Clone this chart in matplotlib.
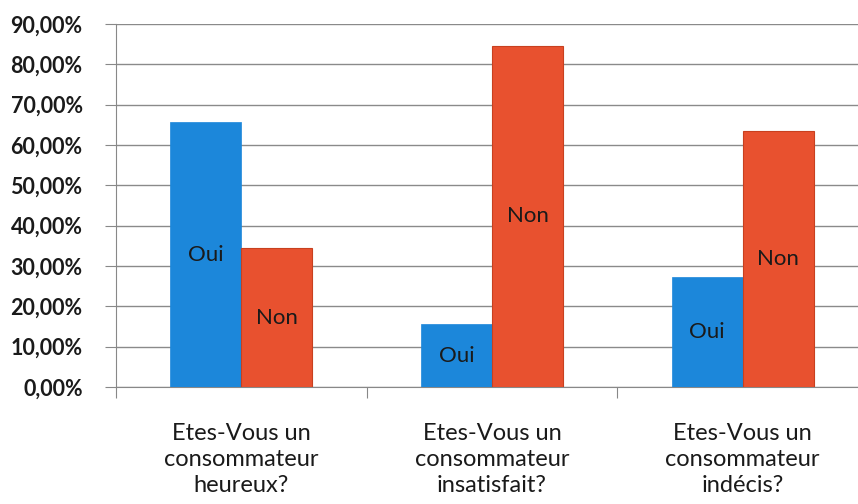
import matplotlib
matplotlib.use("Agg")
import matplotlib.pyplot as plt
import numpy as np
from matplotlib.ticker import FuncFormatter

categories = ["Etes-Vous un\nconsommateur\nheureux?",
              "Etes-Vous un\nconsommateur\ninsatisfait?",
              "Etes-Vous un\nconsommateur\nindécis?"]
oui = [0.656, 0.156, 0.272]
non = [0.344, 0.846, 0.634]
yticks = [0.0, 0.1, 0.2, 0.3, 0.4, 0.5, 0.6, 0.7, 0.8, 0.9]

plt.rcParams['font.family'] = ['Lato', 'DejaVu Sans']

fig = plt.figure(figsize=(8.58, 5.04), dpi=100)
ax = fig.add_axes([116/858, 117/504, 752/858, 363/504])

x = np.arange(len(categories))
w = 0.283
blue = "#1C87DA"
red = "#E8512F"
b1 = ax.bar(x - w/2, oui, w, color=blue, edgecolor=blue, linewidth=0.5, zorder=3)
b2 = ax.bar(x + w/2, non, w, color=red, edgecolor="#C8401F", linewidth=0.8, zorder=3)

for rect in b1:
    ax.text(rect.get_x() + rect.get_width()/2, rect.get_height()/2, "Oui",
            ha="center", va="center", fontsize=16, color="#1a1a1a", zorder=4)
for rect in b2:
    ax.text(rect.get_x() + rect.get_width()/2, rect.get_height()/2, "Non",
            ha="center", va="center", fontsize=16, color="#1a1a1a", zorder=4)

ax.set_xlim(-0.5, 2.5)
ax.set_ylim(0, 0.9)
ax.set_yticks(yticks)
ax.yaxis.set_major_formatter(FuncFormatter(lambda v, p: f"{v*100:.2f}%".replace(".", ",")))
for lab in ax.get_yticklabels():
    lab.set_fontweight("bold")
    lab.set_fontsize(15.5)
    lab.set_color("#1a1a1a")
ax.tick_params(axis="y", length=8, width=0.8, color="#888888", pad=16)

ax.set_xticks(x)
ax.set_xticklabels(categories, fontsize=17, color="#1a1a1a", linespacing=1.3)
ax.set_xticks([-0.5, 0.5, 1.5], minor=True)
ax.tick_params(axis="x", which="major", length=0, pad=26)
ax.tick_params(axis="x", which="minor", length=8, width=0.8, color="#888888")

ax.grid(axis="y", color="#8a8a8a", linewidth=1.0, zorder=0)
ax.set_axisbelow(True)
for s in ["top", "right"]:
    ax.spines[s].set_visible(False)
ax.spines["left"].set_color("#888888")
ax.spines["bottom"].set_color("#888888")
ax.spines["left"].set_linewidth(0.8)
ax.spines["bottom"].set_linewidth(0.8)

fig.savefig("out.png", dpi=100)
